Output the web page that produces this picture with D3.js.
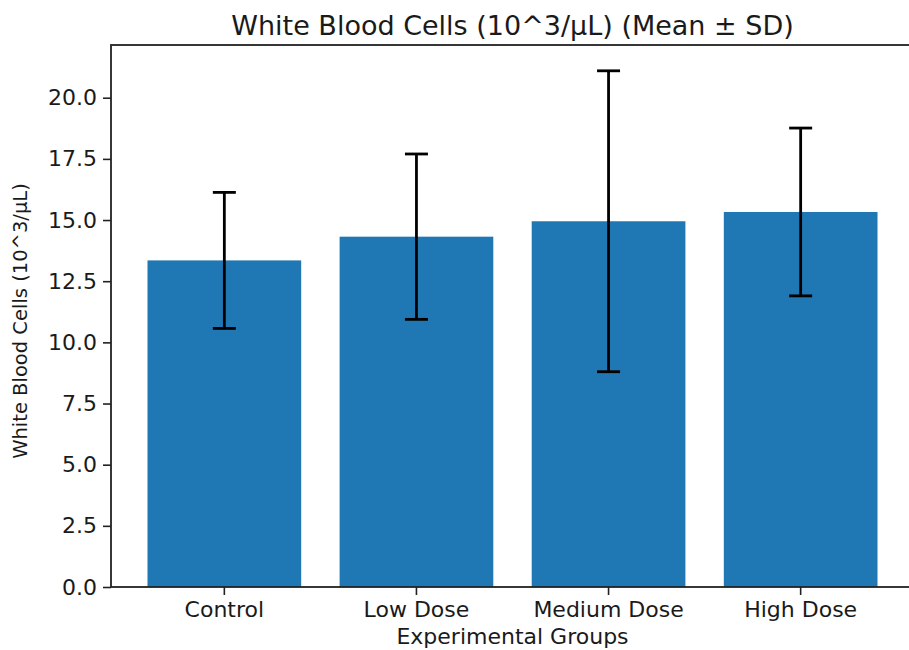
<!DOCTYPE html>
<html>
<head>
<meta charset="utf-8">
<script src="https://cdn.jsdelivr.net/npm/d3@7"></script>
<style>
  body { margin: 0; background: #fff; }
  text { font-family: "DejaVu Sans", sans-serif; fill: #1a1a1a; }
</style>
</head>
<body>
<div id="chart-area"></div>
<script>
// data
const groups = ['Control', 'Low Dose', 'Medium Dose', 'High Dose']
const means = [13.35, 14.32, 14.95, 15.33]
const sds = [2.78, 3.38, 6.15, 3.43]
const yTicks = [0, 2.5, 5, 7.5, 10, 12.5, 15, 17.5, 20]

const margin = {
  left: 111,
  right: -5,
  top: 45,
  bottom: 63
}

const width = 909 - margin.left - margin.right,
  height = 650 - margin.top - margin.bottom;

let svg = d3.select('#chart-area')
  .append('svg')
    .attr('width', 909)
    .attr('height', 650)

let g = svg.append('g')
  .attr('transform', 'translate(' + margin.left + ', ' + margin.top + ')')

let data = groups.map((grp, i) => ({ group: grp, mean: means[i], sd: sds[i] }))

// matplotlib style: 5% margin above the tallest error bar
let yMax = d3.max(data, d => d.mean + d.sd) * 1.05

let x = d3.scaleBand()
  .domain(groups)
  .range([0, width])
  .paddingInner(0.2)
  .paddingOuter(0.19)

let y = d3.scaleLinear()
  .domain([0, yMax])
  .range([height, 0])

// bars
g.selectAll('rect.bar')
  .data(data)
  .enter()
  .append('rect')
    .attr('class', 'bar')
    .attr('x', d => x(d.group))
    .attr('y', d => y(d.mean))
    .attr('width', x.bandwidth())
    .attr('height', d => height - y(d.mean))
    .attr('fill', '#1f77b4')

// error bars
let cap = 11.5
let err = g.selectAll('g.err')
  .data(data)
  .enter()
  .append('g')
    .attr('class', 'err')
    .attr('stroke', '#000')
    .attr('stroke-width', 2.8)

err.append('line')
  .attr('x1', d => x(d.group) + x.bandwidth() / 2)
  .attr('x2', d => x(d.group) + x.bandwidth() / 2)
  .attr('y1', d => y(d.mean - d.sd))
  .attr('y2', d => y(d.mean + d.sd))

err.append('line')
  .attr('x1', d => x(d.group) + x.bandwidth() / 2 - cap)
  .attr('x2', d => x(d.group) + x.bandwidth() / 2 + cap)
  .attr('y1', d => y(d.mean + d.sd))
  .attr('y2', d => y(d.mean + d.sd))

err.append('line')
  .attr('x1', d => x(d.group) + x.bandwidth() / 2 - cap)
  .attr('x2', d => x(d.group) + x.bandwidth() / 2 + cap)
  .attr('y1', d => y(d.mean - d.sd))
  .attr('y2', d => y(d.mean - d.sd))

// axes
let xAxisCall = d3.axisBottom(x)
  .tickSizeOuter(0)
  .tickSizeInner(8)
  .tickPadding(6)
let xAxisGroup = g.append('g')
  .attr('class', 'x axis')
  .attr('transform', 'translate(0,' + height + ')')
  .call(xAxisCall)

let yAxisCall = d3.axisLeft(y)
  .tickValues(yTicks)
  .tickFormat(d3.format('.1f'))
  .tickSizeOuter(0)
  .tickSizeInner(8)
  .tickPadding(6)
let yAxisGroup = g.append('g')
  .attr('class', 'y axis')
  .call(yAxisCall)

svg.selectAll('.axis .domain').remove()
svg.selectAll('.axis line').attr('stroke', '#222').attr('stroke-width', 1.6)
svg.selectAll('.axis text')
  .attr('font-size', '22px')
  .attr('fill', '#1a1a1a')
  .style('font-family', '"DejaVu Sans", sans-serif')

// frame
g.append('rect')
  .attr('x', 0)
  .attr('y', 0)
  .attr('width', width)
  .attr('height', height)
  .attr('fill', 'none')
  .attr('stroke', '#222')
  .attr('stroke-width', 1.8)

// labels
g.append('text')
  .attr('x', width / 2)
  .attr('y', -10)
  .attr('text-anchor', 'middle')
  .attr('font-size', '27px')
  .text('White Blood Cells (10^3/μL) (Mean ± SD)')

g.append('text')
  .attr('x', width / 2)
  .attr('y', height + 57)
  .attr('text-anchor', 'middle')
  .attr('font-size', '22px')
  .text('Experimental Groups')

g.append('text')
  .attr('x', -height / 2 - 5)
  .attr('y', -84)
  .attr('transform', 'rotate(-90)')
  .attr('text-anchor', 'middle')
  .attr('font-size', '19.5px')
  .text('White Blood Cells (10^3/μL)')
</script>
</body>
</html>
